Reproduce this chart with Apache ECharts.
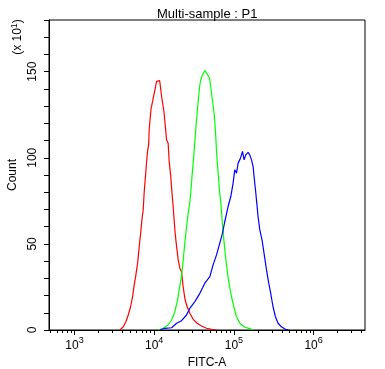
<!DOCTYPE html>
<html><head><meta charset="utf-8">
<script src="https://cdn.jsdelivr.net/npm/echarts@6/dist/echarts.min.js"></script>
<style>html,body{margin:0;padding:0;background:#fff}#c{width:385px;height:369px}</style>
</head><body><div id="c"></div>
<script>
// x values are log10(FITC-A); counts are in units of x10
const redLogX = [3.570,3.612,3.645,3.674,3.704,3.729,3.746,3.767,3.792,3.812,3.830,3.846,3.862,3.875,3.892,3.905,3.917,3.930,3.937,3.950,3.962,3.980,3.992,4.005,4.018,4.030,4.043,4.055,4.068,4.080,4.093,4.105,4.122,4.138,4.155,4.175,4.188,4.206,4.218,4.231,4.247,4.263,4.281,4.301,4.322,4.343,4.363,4.388,4.414,4.447,4.489,4.539,4.594,4.657,4.719,4.782];
const redCount = [0,1.9,4.8,8.7,13.5,19.4,25.2,31.0,38.8,48.4,56.2,64.0,69.8,80.4,90.1,97.8,103.7,107.6,116.3,123.1,128.9,132.7,135.6,138.5,141.5,144.4,145.3,143.4,144.8,140.5,135.6,131.8,126.9,119.2,110.5,108.5,97.8,90.1,82.4,75.6,65.9,56.2,48.4,40.7,35.9,33.9,25.2,17.4,13.5,9.7,6.2,3.9,2.3,1.0,0.4,0];

const greenLogX = [4.050,4.113,4.175,4.218,4.259,4.293,4.313,4.335,4.356,4.372,4.388,4.406,4.426,4.447,4.460,4.476,4.494,4.510,4.526,4.544,4.560,4.573,4.585,4.602,4.619,4.635,4.652,4.664,4.677,4.694,4.711,4.727,4.744,4.757,4.769,4.782,4.794,4.807,4.820,4.836,4.852,4.870,4.895,4.920,4.945,4.970,4.999,5.033,5.074,5.137,5.199,5.241];
const greenCount = [0,1.0,2.9,5.8,10.6,17.4,23.3,29.1,36.8,44.6,52.3,60.1,67.8,74.1,80.4,90.1,99.8,109.5,119.2,128.9,136.6,142.4,145.3,147.8,148.7,150.6,150.2,148.7,149.8,146.3,140.5,134.7,128.9,123.1,115.3,103.7,95.9,88.2,80.4,74.1,64.0,54.2,42.6,33.0,25.2,19.4,13.5,7.7,3.9,1.6,0.8,0];

const blueLogX = [4.071,4.134,4.218,4.281,4.343,4.406,4.447,4.510,4.573,4.635,4.698,4.739,4.782,4.823,4.857,4.886,4.927,4.961,4.990,5.011,5.033,5.053,5.083,5.108,5.128,5.149,5.178,5.199,5.221,5.241,5.253,5.271,5.287,5.303,5.325,5.353,5.378,5.409,5.437,5.462,5.491,5.521,5.554,5.596,5.647,5.688];
const blueCount = [0,1.0,1.3,3.9,5.4,8.7,12.6,16.5,21.3,27.2,31.0,37.8,43.6,50.4,56.2,63.0,71.7,77.5,85.3,93.0,91.1,96.9,99.8,103.7,98.8,101.7,103.1,101.7,98.8,94.9,89.1,81.4,73.7,65.9,58.1,52.3,44.6,34.9,27.2,21.3,13.5,7.7,3.9,1.9,0.4,0];

const xMajorTicks = [1e3, 1e4, 1e5, 1e6];
const xMinorTicks = [500,600,700,800,900,
  2000,3000,4000,5000,6000,7000,8000,9000,
  20000,30000,40000,50000,60000,70000,80000,90000,
  200000,300000,400000,500000,600000,700000,800000,900000,
  2000000,3000000,4000000];
const yTicks = [0,10,20,30,40,50,60,70,80,90,100,110,120,130,140,150,160,170,180];
const yLabels = [0,50,100,150];

const FONT = 'Liberation Sans, Arial, sans-serif';
const xMin = 2.68, xMax = 6.645;
const zip = (a, b) => a.map((v, i) => [v, b[i]]);

const chart = echarts.init(document.getElementById('c'), null, {renderer: 'canvas'});
chart.setOption({
  animation: false,
  backgroundColor: '#fff',
  title: {
    text: 'Multi-sample : P1', left: 152, top: 3,
    textStyle: {fontSize: 13, fontWeight: 'normal', color: '#000', fontFamily: FONT}
  },
  grid: {left: 49, top: 20, width: 316, height: 310, show: true, borderColor: '#000', borderWidth: 1,
    backgroundColor: 'transparent', containLabel: false, outerBoundsMode: 'none'},
  xAxis: [{
    type: 'value', min: xMin, max: xMax, position: 'bottom',
    name: 'FITC-A', nameLocation: 'middle', nameGap: 24,
    nameTextStyle: {fontSize: 12, color: '#000', fontFamily: FONT},
    axisLine: {show: true, lineStyle: {color: '#000', width: 1}},
    axisTick: {show: true, length: 5, customValues: xMajorTicks.map(Math.log10), lineStyle: {color: '#000'}},
    axisLabel: {
      customValues: xMajorTicks.map(Math.log10), margin: 6, color: '#000',
      formatter: v => '{b|10}{s|' + Math.round(v) + '}',
      rich: {
        b: {fontSize: 12, fontFamily: FONT, color: '#000', lineHeight: 16, verticalAlign: 'bottom'},
        s: {fontSize: 9, fontFamily: FONT, color: '#000', lineHeight: 16, verticalAlign: 'top'}
      }
    },
    splitLine: {show: false}
  }, {
    type: 'value', min: xMin, max: xMax, position: 'bottom',
    axisLine: {show: false},
    axisTick: {show: true, length: 3, customValues: xMinorTicks.map(Math.log10), lineStyle: {color: '#000'}},
    axisLabel: {show: false},
    splitLine: {show: false}
  }],
  yAxis: {
    type: 'value', min: 0, max: 180,
    name: 'Count', nameLocation: 'middle', nameGap: 26,
    nameTextStyle: {fontSize: 12, color: '#000', fontFamily: FONT},
    axisLine: {show: true, lineStyle: {color: '#000', width: 1}},
    axisTick: {show: true, length: 5, customValues: yTicks, lineStyle: {color: '#000'}},
    axisLabel: {customValues: yLabels, rotate: 90, margin: 10, fontSize: 12, color: '#000', fontFamily: FONT},
    splitLine: {show: false}
  },
  graphic: [{
    type: 'text', x: 18, y: 37, rotation: Math.PI / 2,
    style: {
      text: '(x 10{s|1})', fill: '#000', font: '12px ' + FONT, align: 'center', verticalAlign: 'middle',
      rich: {s: {fontSize: 9, fontFamily: FONT, fill: '#000', verticalAlign: 'top', lineHeight: 16}}
    }
  }],
  series: [
    {type: 'line', data: zip(redLogX, redCount), symbol: 'none', lineStyle: {color: '#ff0000', width: 1.2}, itemStyle: {color: '#ff0000'}},
    {type: 'line', data: zip(greenLogX, greenCount), symbol: 'none', lineStyle: {color: '#00ff00', width: 1.2}, itemStyle: {color: '#00ff00'}},
    {type: 'line', data: zip(blueLogX, blueCount), symbol: 'none', lineStyle: {color: '#0000ff', width: 1.2}, itemStyle: {color: '#0000ff'}}
  ]
});
</script></body></html>
